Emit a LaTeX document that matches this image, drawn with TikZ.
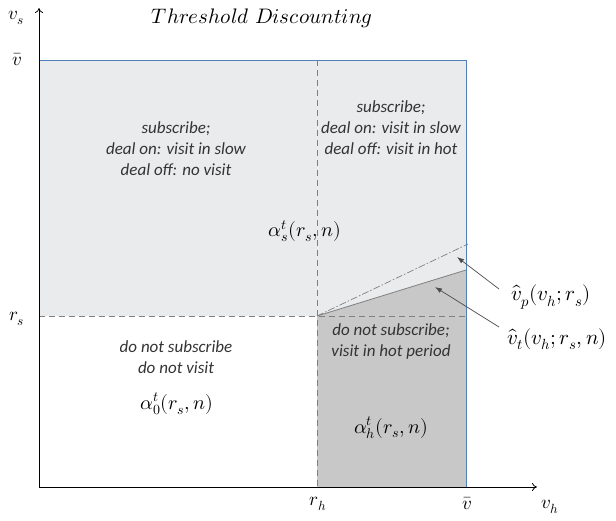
\documentclass[tikz,border=0pt]{standalone}
\usepackage{fontspec}
\usepackage{unicode-math}
\setmathfont{Latin Modern Math}
\setsansfont{Carlito}
\usetikzlibrary{arrows.meta}
\definecolor{lightfill}{RGB}{234,235,237}
\definecolor{darkfill}{RGB}{200,200,200}
\definecolor{edgeblue}{RGB}{79,129,189}
\definecolor{dashgray}{RGB}{128,128,128}
\tikzset{
  regiontext/.style={font=\sffamily\itshape\fontsize{17}{21}\selectfont, text=black!80, align=center, inner sep=0pt},
  mathlabel/.style={font=\fontsize{20}{22}\selectfont, inner sep=0pt},
  calloutlabel/.style={font=\fontsize{21}{22}\selectfont, inner sep=0pt},
  ticklabel/.style={font=\fontsize{19}{20}\selectfont, inner sep=0pt},
  divider/.style={dashgray, dashed, dash pattern=on 6pt off 4pt, line width=0.8pt},
  callout/.style={black!70, line width=0.7pt, -{Latex[length=7pt,width=5pt]}},
  axisline/.style={black, line width=0.8pt, -{To[length=5pt,width=8pt]}}
}
\begin{document}
\begin{tikzpicture}[x=1pt,y=-1pt]
\useasboundingbox (0,0) rectangle (616,520);
% fills
\fill[lightfill] (39,60) rectangle (466,316);
\fill[lightfill] (317,316) -- (466,270) -- (466,316) -- cycle;
\fill[darkfill] (317,316) -- (466,270) -- (466,487) -- (317,487) -- cycle;
% coordinates
\coordinate (O) at (39,487);
\coordinate (ytop) at (39,8);
\coordinate (xend) at (537,487);
\coordinate (tl) at (39,60);
\coordinate (tr) at (466,60);
\coordinate (br) at (466,487);
\coordinate (rhtop) at (317,60);
\coordinate (rhbot) at (317,487);
\coordinate (rsl) at (39,316);
\coordinate (rsr) at (466,316);
\coordinate (kink) at (317,316);
\coordinate (tend) at (466,270);
\coordinate (pend) at (468,244);
% dividers
\draw[divider] (rhtop) -- (rhbot);
\draw[divider] (rsl) -- (rsr);
% threshold lines
\draw[dashgray, line width=0.8pt] (kink) -- (tend);
\draw[dashgray, line width=0.7pt, dash pattern=on 7pt off 2pt on 1.5pt off 2pt] (kink) -- (pend);
% box edges
\draw[edgeblue, line width=1pt] (tl) -- (tr) -- (br);
% axes
\draw[axisline] (O) -- (ytop);
\draw[axisline] (O) -- (xend);
% axis labels
\node[ticklabel] (vs) at (16,18) {$v_s$};
\node[ticklabel] (vbary) at (17,60) {$\bar{v}$};
\node[ticklabel] (rs) at (17,319) {$r_s$};
\node[ticklabel] (rh) at (318,504) {$r_h$};
\node[ticklabel] (vbarx) at (467,504) {$\bar{v}$};
\node[ticklabel] (vh) at (550,507) {$v_h$};
% title
\node[font=\fontsize{21}{22}\selectfont, inner sep=0pt] (title) at (262,18) {$Threshold\ Discounting$};
% region texts
\node[regiontext] (ul) at (176,149) {subscribe;\\deal on: visit in slow\\deal off: no visit};
\node[regiontext] (ur) at (391,128) {subscribe;\\deal on: visit in slow\\deal off: visit in hot};
\node[regiontext] (ll) at (176,357) {do not subscribe\\do not visit};
\node[regiontext] (lr) at (391,341) {do not subscribe;\\visit in hot period};
\node[mathlabel] (as) at (305,231) {$\alpha_s^t(r_s,n)$};
\node[mathlabel] (a0) at (177,404) {$\alpha_0^t(r_s,n)$};
\node[mathlabel] (ah) at (391,428) {$\alpha_h^t(r_s,n)$};
% callouts
\node[calloutlabel] (vp) at (551,297) {$\hat{v}_p(v_h;r_s)$};
\node[calloutlabel] (vt) at (557,339) {$\hat{v}_t(v_h;r_s,n)$};
\coordinate (vptip) at (457,257);
\coordinate (vttip) at (435,287);
\coordinate (vpstart) at (499,289);
\coordinate (vtstart) at (499,327);
\draw[callout] (vpstart) -- (vptip);
\draw[callout] (vtstart) -- (vttip);
\end{tikzpicture}
\end{document}
